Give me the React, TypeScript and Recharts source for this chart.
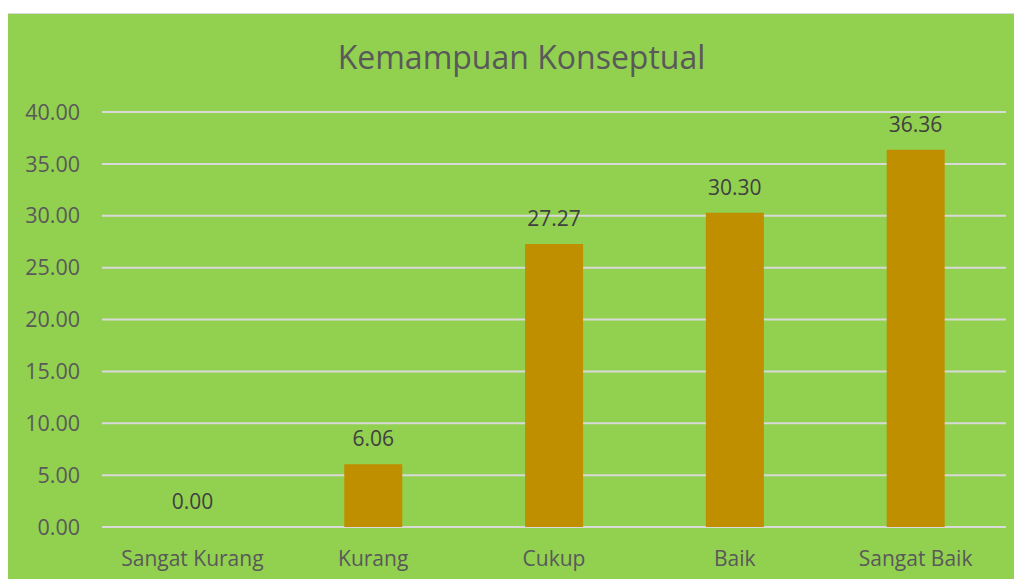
import React from "react";
import { ComposedChart, Bar, Line, XAxis, YAxis, CartesianGrid, LabelList } from "recharts";

const categories = ["Sangat Kurang", "Kurang", "Cukup", "Baik", "Sangat Baik"];
const values = [0.0, 6.06, 27.27, 30.3, 36.36];
const yTicks = [0, 5, 10, 15, 20, 25, 30, 35, 40];
const chartTitle = "Kemampuan Konseptual";

const data = categories.map((c, i) => ({ name: c, value: values[i] }));

const FONT = "'Open Sans', sans-serif";

export default function App() {
  return (
    <div
      style={{
        position: "relative",
        marginLeft: -1,
        marginTop: 5,
        width: 1016,
        height: 580,
        border: "1px solid #d9d9d9",
        background: "#92D050",
        fontFamily: FONT,
      }}
    >
      <div
        style={{
          position: "absolute",
          left: 0,
          right: 0,
          top: 23,
          textAlign: "center",
          fontSize: 32,
          color: "#595959",
          paddingLeft: 11,
          lineHeight: "40px",
          whiteSpace: "nowrap",
        }}
      >
        {chartTitle}
      </div>
      <ComposedChart
        width={1016}
        height={570}
        data={data}
        margin={{ top: 98, right: 18, bottom: 27, left: 0 }}
        barCategoryGap="34%"
      >
        <CartesianGrid vertical={false} stroke="#d9d9d9" strokeWidth={2} />
        <XAxis
          dataKey="name"
          height={30}
          axisLine={false}
          tickLine={false}
          tickSize={0}
          tickMargin={24}
          tick={{ fill: "#595959", fontSize: 21, fontFamily: FONT }}
          interval={0}
        />
        <YAxis
          width={94}
          domain={[0, 40]}
          ticks={yTicks}
          axisLine={false}
          tickLine={false}
          tickSize={0}
          tickMargin={22}
          tickFormatter={(v: number) => v.toFixed(2)}
          tick={{ fill: "#595959", fontSize: 21.5, fontFamily: FONT }}
        />
        <Bar dataKey="value" fill="#BF8F00" isAnimationActive={false} />
        <Line
          dataKey="value"
          stroke="none"
          dot={false}
          activeDot={false}
          isAnimationActive={false}
        >
          <LabelList
            dataKey="value"
            position="top"
            offset={18}
            formatter={(v: number) => v.toFixed(2)}
            style={{ fill: "#404040", fontSize: 21, fontFamily: FONT }}
          />
        </Line>
      </ComposedChart>
    </div>
  );
}
